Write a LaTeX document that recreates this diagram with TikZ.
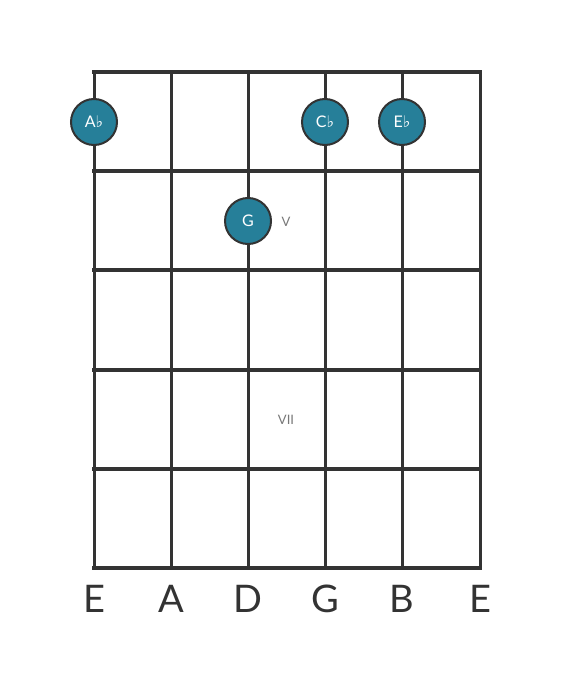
\documentclass[tikz,border=0pt]{standalone}
\usepackage{fontspec}
\setmainfont{Lato}
\newfontfamily\symfont{DejaVu Sans}
\definecolor{gridc}{HTML}{333333}
\definecolor{notec}{HTML}{267F99}
\definecolor{labc}{HTML}{777777}
\newcommand{\flt}{{\symfont\char"266D}}
\begin{document}
\begin{tikzpicture}[x=1pt,y=-1pt,
  fret/.style={line width=4pt,draw=gridc,line cap=rect},
  strng/.style={line width=3pt,draw=gridc},
  note/.style={circle,minimum size=46pt,inner sep=0pt,fill=notec,draw=gridc,line width=2pt,text=white,font=\fontsize{16}{16}\selectfont},
  fretlabel/.style={text=labc,font=\fontsize{13}{13}\selectfont},
  sname/.style={text=gridc,font=\fontsize{38}{38}\selectfont}]
\useasboundingbox (0,0) rectangle (560,682);
\foreach \x/\n in {94/s1,171/s2,248/s3,325/s4,402/s5,480/s6}{
  \coordinate (\n t) at (\x,72);
  \coordinate (\n b) at (\x,568);
  \draw[strng] (\n t) -- (\n b);
}
\foreach \y/\n in {72/f0,171/f1,270/f2,370/f3,469/f4,568/f5}{
  \coordinate (\n l) at (94,\y);
  \coordinate (\n r) at (480,\y);
  \draw[fret] (\n l) -- (\n r);
}
\node[note] (ab) at (94,122) {A\flt};
\node[note] (cb) at (325,122) {C\flt};
\node[note] (eb) at (402,122) {E\flt};
\node[note] (g) at (248,221) {G};
\node[fretlabel] (p5) at (286,222) {V};
\node[fretlabel] (p7) at (286,420) {VII};
\foreach \x/\l/\n in {94/E/l1,171/A/l2,248/D/l3,325/G/l4,402/B/l5,480/E/l6}{
  \node[sname] (\n) at (\x,599) {\l};
}
\end{tikzpicture}
\end{document}
